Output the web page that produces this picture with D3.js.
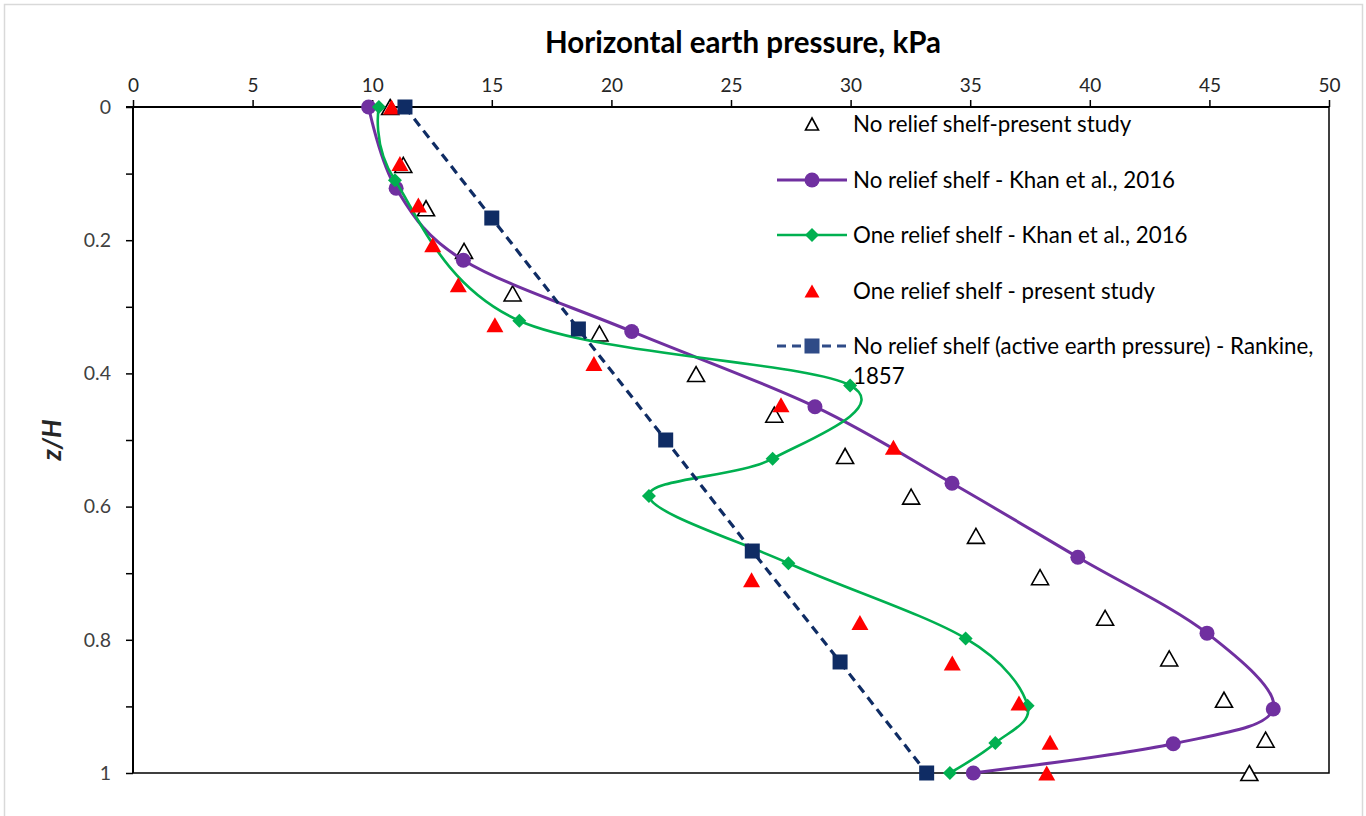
<!DOCTYPE html>
<html>
<head>
<meta charset="utf-8">
<script src="https://cdn.jsdelivr.net/npm/d3@7"></script>
<style>
  html, body { margin: 0; padding: 0; background: #fff; }
  svg { display: block; }
  text { font-family: Lato, "Open Sans", sans-serif; }
</style>
</head>
<body>
<svg id="chart" width="1366" height="816"></svg>
<script>
// ---------- data ----------
const xTicks = [0, 5, 10, 15, 20, 25, 30, 35, 40, 45, 50];
const yTicks = [0, 0.1, 0.2, 0.3, 0.4, 0.5, 0.6, 0.7, 0.8, 0.9, 1];
const yTickLabels = ["0", "", "0.2", "", "0.4", "", "0.6", "", "0.8", "", "1"];

const seriesNames = [
  "No relief shelf-present study",
  "No relief shelf - Khan et al., 2016",
  "One relief shelf - Khan et al., 2016",
  "One relief shelf - present study",
  "No relief shelf (active earth pressure) - Rankine,"
];

// No relief shelf - present study (open triangles)
const noReliefPresentZ = [0, 0.087, 0.152, 0.216, 0.28, 0.34, 0.401, 0.462, 0.524, 0.585, 0.644, 0.706, 0.767, 0.828, 0.89, 0.95, 1.0];
const noReliefPresentP = [10.75, 11.3, 12.25, 13.84, 15.87, 19.5, 23.54, 26.81, 29.77, 32.53, 35.24, 37.92, 40.64, 43.32, 45.61, 47.35, 46.67];

// No relief shelf - Khan et al., 2016 (purple circles)
const noReliefKhanZ = [0, 0.122, 0.23, 0.337, 0.45, 0.565, 0.676, 0.79, 0.904, 0.956, 1.0];
const noReliefKhanP = [9.85, 11.0, 13.81, 20.85, 28.51, 34.24, 39.5, 44.9, 47.67, 43.49, 35.13];

// One relief shelf - Khan et al., 2016 (green diamonds)
const oneReliefKhanZ = [0, 0.11, 0.321, 0.418, 0.528, 0.584, 0.685, 0.798, 0.899, 0.955, 1.0];
const oneReliefKhanP = [10.28, 10.95, 16.15, 29.98, 26.74, 21.57, 27.4, 34.81, 37.4, 36.05, 34.15];

// One relief shelf - present study (red triangles)
const oneReliefPresentZ = [0, 0.085, 0.147, 0.207, 0.267, 0.327, 0.385, 0.447, 0.511, 0.71, 0.774, 0.835, 0.895, 0.954, 1.0];
const oneReliefPresentP = [10.81, 11.16, 11.93, 12.53, 13.6, 15.13, 19.27, 27.09, 31.79, 25.86, 30.39, 34.25, 37.04, 38.34, 38.2];

// Rankine active earth pressure (navy squares, dashed)
const rankineZ = [0, 0.1667, 0.3333, 0.5, 0.6667, 0.8333, 1.0];
const rankineP = [11.37, 15.0, 18.62, 22.27, 25.89, 29.56, 33.18];

// ---------- layout ----------
const svg = d3.select("#chart");
const pL = 133, pR = 1329, pT = 107, pB = 773;
const x = d3.scaleLinear().domain([0, 50]).range([pL, pR]);
const y = d3.scaleLinear().domain([0, 1]).range([pT, pB]);

const purple = "#7030A0", green = "#00B050", red = "#FF0000", navy = "#0F2C64";

// outer chart frame
svg.append("rect").attr("x", 4.5).attr("y", 4.5).attr("width", 1358).attr("height", 830)
  .attr("fill", "#fff").attr("stroke", "#d9d9d9").attr("stroke-width", 1.5);

// plot border (right and bottom)
svg.append("path")
  .attr("d", `M${pL},${pB}H${pR}V${pT}`)
  .attr("fill", "none").attr("stroke", "#000").attr("stroke-width", 1.5);

// top x axis
const xAxis = d3.axisTop(x).tickValues(xTicks).tickSize(7).tickPadding(8).tickFormat(d3.format("d"));
const gx = svg.append("g").attr("transform", `translate(0,${pT})`).call(xAxis);
gx.select(".domain").attr("stroke", "#000").attr("stroke-width", 2).attr("d", `M${pL - 7},0H${pR}`);
gx.selectAll(".tick line").attr("stroke", "#000").attr("stroke-width", 1.5);
gx.selectAll(".tick text").attr("font-size", 19).attr("fill", "#262626").attr("font-family", "Lato, 'Open Sans', sans-serif");

// left y axis
const yAxis = d3.axisLeft(y).tickValues(yTicks).tickSize(7).tickPadding(15).tickFormat((d, i) => yTickLabels[i]);
const gy = svg.append("g").attr("transform", `translate(${pL},0)`).call(yAxis);
gy.select(".domain").attr("stroke", "#000").attr("stroke-width", 2).attr("d", `M0,${pT}V${pB}`);
gy.selectAll(".tick line").attr("stroke", "#000").attr("stroke-width", 1.5);
gy.selectAll(".tick text").attr("font-size", 19.5).attr("fill", "#404040").attr("font-family", "Lato, 'Open Sans', sans-serif");

// axis titles
svg.append("text").attr("x", 743).attr("y", 53).attr("text-anchor", "middle")
  .attr("font-size", 29.5).attr("font-weight", "bold").attr("fill", "#000")
  .text("Horizontal earth pressure, kPa");
svg.append("text").attr("transform", "translate(61,440) rotate(-90)").attr("text-anchor", "middle")
  .attr("font-size", 26).attr("font-weight", "bold").attr("font-style", "italic").attr("fill", "#262626")
  .text("z/H");

// marker shapes
const triPath = (w, h) => `M0,${-h / 2}L${w / 2},${h / 2}L${-w / 2},${h / 2}Z`;
const diamondPath = r => `M0,${-r}L${r},0L0,${r}L${-r},0Z`;

function zip(p, z) { return p.map((v, i) => ({ p: v, z: z[i] })); }

const plot = svg.append("g");

// series 1: open triangles
plot.selectAll(".s1").data(zip(noReliefPresentP, noReliefPresentZ)).join("path")
  .attr("d", triPath(17, 15)).attr("transform", d => `translate(${x(d.p)},${y(d.z)})`)
  .attr("fill", "#fff").attr("stroke", "#000").attr("stroke-width", 1.6);

// series 2: purple smooth line
const smooth = d3.line().x(d => x(d.p)).y(d => y(d.z)).curve(d3.curveCardinal.tension(0));
const purpleData = zip(noReliefKhanP, noReliefKhanZ);
plot.append("path").attr("d", smooth(purpleData)).attr("fill", "none")
  .attr("stroke", purple).attr("stroke-width", 3);
plot.selectAll(".s2").data(purpleData).join("circle")
  .attr("cx", d => x(d.p)).attr("cy", d => y(d.z)).attr("r", 7.5).attr("fill", purple);

// series 3: green smooth line
const greenData = zip(oneReliefKhanP, oneReliefKhanZ);
plot.append("path").attr("d", smooth(greenData)).attr("fill", "none")
  .attr("stroke", green).attr("stroke-width", 2.6);
plot.selectAll(".s3").data(greenData).join("path")
  .attr("d", diamondPath(7)).attr("transform", d => `translate(${x(d.p)},${y(d.z)})`)
  .attr("fill", green);

// series 4: red triangles
plot.selectAll(".s4").data(zip(oneReliefPresentP, oneReliefPresentZ)).join("path")
  .attr("d", triPath(17, 15)).attr("transform", d => `translate(${x(d.p)},${y(d.z)})`)
  .attr("fill", red);

// series 5: Rankine dashed
const straight = d3.line().x(d => x(d.p)).y(d => y(d.z));
const rankData = zip(rankineP, rankineZ);
plot.append("path").attr("d", straight(rankData)).attr("fill", "none")
  .attr("stroke", navy).attr("stroke-width", 3.2).attr("stroke-dasharray", "9,6");
plot.selectAll(".s5").data(rankData).join("rect")
  .attr("x", d => x(d.p) - 7.5).attr("y", d => y(d.z) - 7.5).attr("width", 15).attr("height", 15)
  .attr("fill", navy);

// ---------- legend ----------
const legX = 812, lineX0 = 777, lineX1 = 847, textX = 853;
const legY = [124, 180, 235, 291, 346];
const leg = svg.append("g");
const legFont = 22.3;

// row 1
leg.append("path").attr("d", triPath(13, 12)).attr("transform", `translate(${legX},${legY[0]})`)
  .attr("fill", "#fff").attr("stroke", "#000").attr("stroke-width", 1.6);
// row 2
leg.append("line").attr("x1", lineX0).attr("x2", lineX1).attr("y1", legY[1]).attr("y2", legY[1])
  .attr("stroke", purple).attr("stroke-width", 3);
leg.append("circle").attr("cx", legX).attr("cy", legY[1]).attr("r", 7.5).attr("fill", purple);
// row 3
leg.append("line").attr("x1", lineX0).attr("x2", lineX1).attr("y1", legY[2]).attr("y2", legY[2])
  .attr("stroke", green).attr("stroke-width", 2.6);
leg.append("path").attr("d", diamondPath(7)).attr("transform", `translate(${legX},${legY[2]})`).attr("fill", green);
// row 4
leg.append("path").attr("d", triPath(15, 13)).attr("transform", `translate(${legX},${legY[3]})`).attr("fill", red);
// row 5
leg.append("line").attr("x1", lineX0).attr("x2", lineX1).attr("y1", legY[4]).attr("y2", legY[4])
  .attr("stroke", "#2F4B87").attr("stroke-width", 3.2).attr("stroke-dasharray", "9,6");
leg.append("rect").attr("x", legX - 7.5).attr("y", legY[4] - 7.5).attr("width", 15).attr("height", 15).attr("fill", "#2F4B87");

seriesNames.forEach((name, i) => {
  leg.append("text").attr("x", textX).attr("y", legY[i]).attr("dy", "0.35em")
    .attr("font-size", legFont).attr("fill", "#000").text(name);
});
leg.append("text").attr("x", textX).attr("y", 376).attr("dy", "0.35em")
  .attr("font-size", legFont).attr("fill", "#000").text("1857");
</script>
</body>
</html>
